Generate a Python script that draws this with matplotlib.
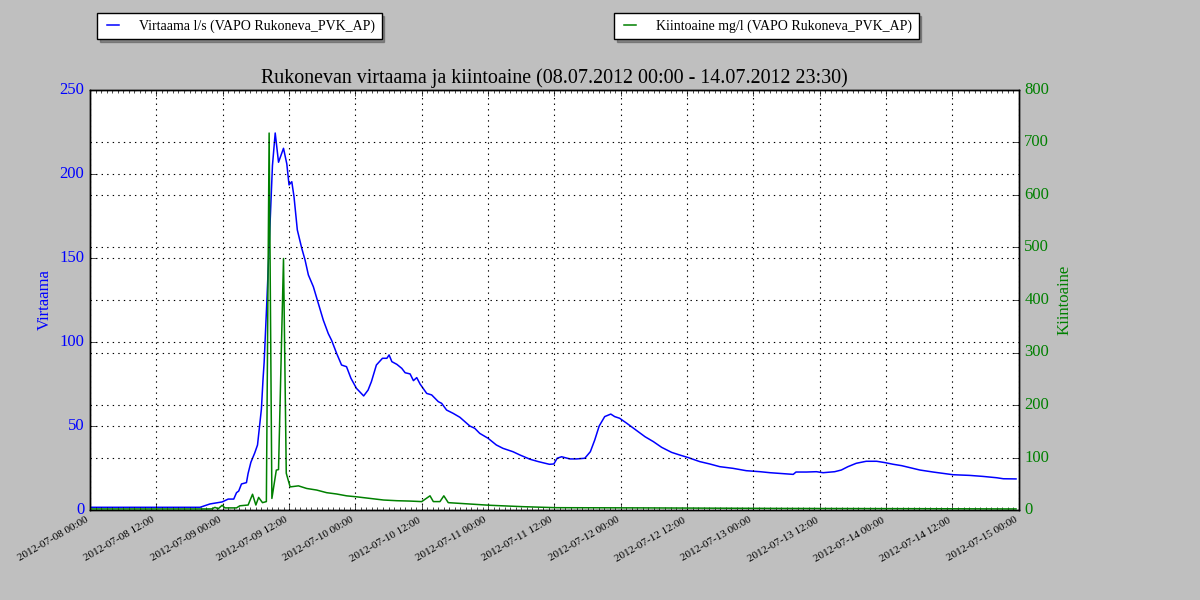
import matplotlib
matplotlib.use('Agg')
import matplotlib.pyplot as plt
import matplotlib.dates as mdates
import pandas as pd

start = pd.Timestamp('2012-07-08 00:00')

# virtaama l/s (hours from start, value)
flow_hours = [0, 19.9, 21.7, 23.9, 25.0, 26.0, 26.5, 26.9, 27.4, 28.3, 28.6, 29.1,
              29.8, 30.3, 30.6, 31.0, 31.3, 31.5, 32.0, 32.5, 33.0, 33.5, 34.1,
              35.0, 35.6, 36.0, 36.5, 36.9, 37.5, 38.3, 38.9, 39.5, 40.4, 41.3,
              42.2, 43.1, 43.7, 44.6, 45.5, 46.4, 47.2, 48.2, 49.5, 50.3, 50.9,
              51.8, 52.9, 53.7, 54.1, 54.6, 55.5, 56.4, 57.0, 57.9, 58.5, 59.1,
              59.7, 60.9, 61.8, 63.0, 63.6, 64.5, 65.7, 66.9, 67.8, 68.7, 69.6,
              70.5, 72.0, 73.5, 74.7, 76.5, 77.8, 79.6, 81.1, 83.1, 83.9, 84.5,
              85.3, 86.8, 88.0, 89.5, 90.5, 91.3, 92.1, 93.1, 94.2, 94.9, 95.8,
              97.1, 98.9, 100.4, 101.9, 103.4, 105.2, 106.7, 108.2, 110.3, 112.1,
              113.9, 116.3, 118.7, 121.2, 123.0, 125.4, 127.2, 127.7, 129.6, 131.4,
              132.6, 134.7, 135.9, 137.1, 138.6, 140.4, 142.3, 143.8, 145.3, 146.8,
              148.3, 150.1, 152.5, 154.3, 156.1, 159.1, 161.5, 164.0, 165.2, 167.5]
flow_values = [1.6, 1.6, 3.6, 4.8, 6.5, 6.5, 10.3, 11.3, 15.5, 16.3, 21.8, 28.4,
               34.0, 38.7, 47.6, 60.0, 78.0, 88.0, 125.0, 165.0, 205.0, 224.4, 207.0,
               215.3, 206.0, 193.5, 195.4, 186.5, 166.7, 155.8, 148.8, 139.9, 132.9, 123.0,
               113.0, 105.0, 101.0, 93.3, 86.3, 85.3, 78.4, 72.4, 67.9, 71.4, 76.4,
               86.3, 90.3, 90.3, 92.3, 88.3, 86.7, 84.3, 81.7, 81.0, 77.0, 78.8,
               75.0, 69.4, 68.5, 64.5, 63.5, 59.5, 57.5, 55.2, 52.6, 50.0, 48.6,
               45.6, 42.7, 38.7, 36.7, 34.7, 32.7, 30.2, 28.8, 27.2, 27.4, 30.8,
               31.7, 30.4, 30.4, 30.8, 34.7, 41.7, 50.0, 55.6, 57.1, 55.6, 54.6,
               51.6, 47.2, 43.6, 40.7, 37.3, 34.3, 32.7, 31.2, 28.8, 27.4,
               25.8, 24.8, 23.4, 22.8, 22.2, 21.6, 21.2, 22.6, 22.6, 22.8,
               22.2, 22.8, 23.8, 25.8, 27.8, 29.0, 29.0, 28.2, 27.2, 26.4,
               25.2, 23.8, 22.6, 21.8, 21.0, 20.6, 20.0, 19.2, 18.6, 18.5]

# kiintoaine mg/l
solids_hours = [0, 22.0, 22.6, 23.2, 23.9, 24.4, 26.5, 27.1, 28.6, 29.4, 30.0, 30.5,
                31.2, 31.9, 32.4, 32.9, 33.7, 34.1, 35.0, 35.5, 36.2, 37.7, 39.2,
                41.0, 42.8, 44.6, 46.4, 48.3, 50.7, 53.1, 55.5, 57.9, 60.0, 61.5,
                62.1, 63.3, 64.0, 64.8, 68.7, 72.3, 78.4, 84.4, 100, 125, 150, 167.5]
solids_values = [2, 2, 5, 2.5, 9, 4, 4, 8, 9.5, 30, 9.5, 24,
                 14, 16, 718, 22, 76, 77, 479, 70, 44, 46, 41,
                 38, 33, 30.5, 27, 25, 22, 19, 17.7, 17, 16, 27,
                 16, 16, 27, 14, 11.4, 9, 6.3, 4.4, 4, 3, 2.5, 2]

flow_t = start + pd.to_timedelta(flow_hours, unit='h')
solids_t = start + pd.to_timedelta(solids_hours, unit='h')

plt.style.use('classic')
plt.rcParams['font.family'] = ['Liberation Serif', 'DejaVu Serif']

fig = plt.figure(figsize=(12, 6), dpi=100, facecolor='#bfbfbf')
ax1 = fig.add_axes([0.075, 0.15, 0.774, 0.70])
ax2 = ax1.twinx()

l1, = ax1.plot(flow_t, flow_values, color='b', lw=1.1,
               label='Virtaama l/s (VAPO Rukoneva_PVK_AP)')
l2, = ax2.plot(solids_t, solids_values, color='g', lw=1.1,
               label='Kiintoaine mg/l (VAPO Rukoneva_PVK_AP)')

ax1.set_ylim(0, 250)
ax1.set_yticks(range(0, 251, 50))
ax2.set_ylim(0, 800)
ax2.set_yticks(range(0, 801, 100))
ax1.set_xlim(start, pd.Timestamp('2012-07-15 00:00'))

ax1.xaxis.set_major_locator(mdates.HourLocator(byhour=[0, 12]))
ax1.xaxis.set_minor_locator(mdates.HourLocator())
ax1.xaxis.set_major_formatter(mdates.DateFormatter('%Y-%m-%d %H:%M'))
for lab in ax1.get_xticklabels():
    lab.set_rotation(30)
    lab.set_ha('right')
    lab.set_fontsize(8)

ax1.tick_params(axis='y', labelcolor='b', labelsize=12)
ax2.tick_params(axis='y', labelcolor='g', labelsize=12)
ax1.set_ylabel('Virtaama', color='b', fontsize=12)
ax2.set_ylabel('Kiintoaine', color='g', fontsize=12)

ax1.grid(True, color='k', linestyle=':', lw=0.8)
ax2.grid(True, color='k', linestyle=':', lw=0.8)

ax1.set_title('Rukonevan virtaama ja kiintoaine (08.07.2012 00:00 - 14.07.2012 23:30)',
              fontsize=14.4)

leg_kw = dict(loc='upper left', fontsize=10, borderaxespad=0, borderpad=0.45,
              handlelength=1.4, handletextpad=1.2, fancybox=False, shadow=True,
              framealpha=1, edgecolor='k', bbox_transform=fig.transFigure)
fig.legend(handles=[l1], bbox_to_anchor=(97 / 1200, 1 - 13 / 600), **leg_kw)
fig.legend(handles=[l2], bbox_to_anchor=(614 / 1200, 1 - 13 / 600), **leg_kw)

fig.savefig('out.png', dpi=100, facecolor='#bfbfbf')
